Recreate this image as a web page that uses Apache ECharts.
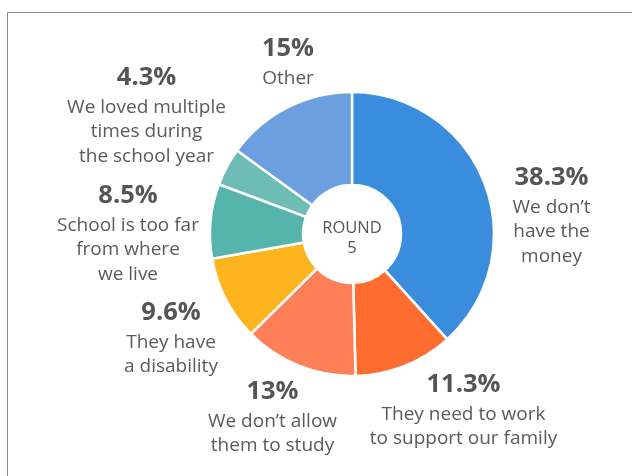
<!DOCTYPE html>
<html>
<head>
<meta charset="utf-8">
<script src="https://cdn.jsdelivr.net/npm/echarts@6/dist/echarts.min.js"></script>
<style>
  html, body { margin: 0; padding: 0; background: #fff; }
  #chart { width: 632px; height: 476px; }
</style>
</head>
<body>
<div id="chart"></div>
<script>
// Reasons children are out of school, round 5
const reasons = [
  "We don’t\nhave the\nmoney",
  "They need to work\nto support our family",
  "We don’t allow\nthem to study",
  "They have\na disability",
  "School is too far\nfrom where\nwe live",
  "We loved multiple\ntimes during\nthe school year",
  "Other"
];
const shares = [38.3, 11.3, 13, 9.6, 8.5, 4.3, 15];
const shareLabels = ["38.3%", "11.3%", "13%", "9.6%", "8.5%", "4.3%", "15%"];
const colors = ["#3a8ddd", "#ff6c2f", "#ff7f59", "#fdb41f", "#55b5ad", "#6dbcb5", "#6b9fe0"];

// Label anchor points (top-centre of each text block)
const labelAnchors = [
  [551.5, 160], [463.5, 367], [272.5, 374], [171, 295], [128, 178], [146.5, 60], [288, 31]
];

const chart = echarts.init(document.getElementById('chart'), null, { renderer: 'canvas' });
const font = '"Open Sans", Lato, sans-serif';

chart.setOption({
  backgroundColor: '#ffffff',
  animation: false,
  graphic: [{
    type: 'rect',
    shape: { x: 7.5, y: 12.5, width: 700, height: 600 },
    style: { fill: 'none', stroke: '#8a8a8a', lineWidth: 1 },
    z: 0
  }, {
    type: 'text',
    x: 352,
    y: 238,
    style: {
      text: 'ROUND\n5',
      align: 'center',
      verticalAlign: 'middle',
      font: '16.5px ' + font,
      fill: '#555555',
      lineHeight: 20
    },
    z: 10
  }],
  series: [{
    type: 'pie',
    center: [352, 234],
    radius: [49, 142],
    startAngle: 90,
    clockwise: true,
    avoidLabelOverlap: false,
    itemStyle: { borderColor: '#ffffff', borderWidth: 2.5 },
    label: {
      show: true,
      position: 'outside',
      formatter: p => '{v|' + shareLabels[p.dataIndex] + '}\n{t|' + reasons[p.dataIndex].split('\n').join('}\n{t|') + '}',
      rich: {
        v: { fontFamily: font, fontWeight: 'bold', fontSize: 25.5, color: '#555555', lineHeight: 35, align: 'center' },
        t: { fontFamily: font, fontSize: 19, color: '#5a5a5a', lineHeight: 24.5, align: 'center' }
      },
      align: 'center'
    },
    labelLine: { show: false },
    labelLayout: p => ({
      x: labelAnchors[p.dataIndex][0],
      y: labelAnchors[p.dataIndex][1],
      align: 'center',
      verticalAlign: 'top'
    }),
    emphasis: { disabled: true },
    data: shares.map((v, i) => ({ value: v, name: reasons[i], itemStyle: { color: colors[i] } }))
  }]
});
</script>
</body>
</html>
